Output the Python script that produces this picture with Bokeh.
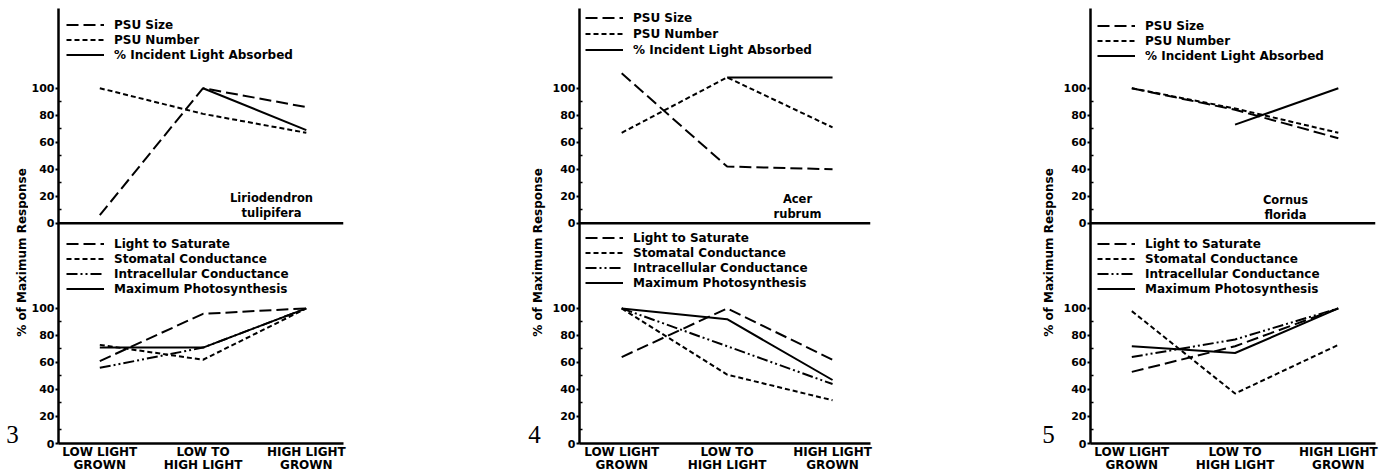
import math
from bokeh.plotting import figure
from bokeh.models import (ColumnDataSource, FixedTicker, Span, Label, Legend,
                          LegendItem, Range1d)
from bokeh.transform import dodge
from bokeh.layouts import row
from bokeh.embed import file_html
from bokeh.resources import INLINE

NaN = float("nan")

# ---------------- data ----------------
categories = ["LOW LIGHT\nGROWN", "LOW TO\nHIGH LIGHT", "HIGH LIGHT\nGROWN"]
species = ["Liriodendron\ntulipifera", "Acer\nrubrum", "Cornus\nflorida"]
figure_numbers = ["3", "4", "5"]
y_tick_values = [0, 20, 40, 60, 80, 100]
y_minor_values = [10, 30, 50, 70, 90]

top_names = ["PSU Size", "PSU Number", "% Incident Light Absorbed"]
bottom_names = ["Light to Saturate", "Stomatal Conductance",
                "Intracellular Conductance", "Maximum Photosynthesis"]

# Liriodendron tulipifera
lirio_psu_size = [6, 100, 86]
lirio_psu_number = [100, 81, 67]
lirio_light_absorbed = [NaN, 100, 69]
lirio_light_saturate = [61, 96, 100]
lirio_stomatal = [73, 62, 100]
lirio_intracellular = [56, 71, 100]
lirio_max_ps = [71, 71, 100]

# Acer rubrum
acer_psu_size = [111, 42, 40]
acer_psu_number = [67, 108, 71]
acer_light_absorbed = [NaN, 108, 108]
acer_light_saturate = [64, 100, 62]
acer_stomatal = [100, 51, 32]
acer_intracellular = [100, 72, 44]
acer_max_ps = [100, 92, 47]

# Cornus florida
cornus_psu_size = [100, 84, 63]
cornus_psu_number = [100, 85, 67]
cornus_light_absorbed = [NaN, 73, 100]
cornus_light_saturate = [53, 72, 100]
cornus_stomatal = [98, 37, 73]
cornus_intracellular = [64, 77, 100]
cornus_max_ps = [72, 67, 100]

# ---------------- styles / layout ----------------
FONT = "DejaVu Sans"
TOP_OFFSET = 163          # vertical offset of the upper sub-plot (layout)
top_dashes = ["12 5", "5 3", "solid"]
bottom_dashes = ["12 5", "5 3", "11 3 2 3 2 3", "solid"]
HEIGHT = 475
BORDER_TOP = 8
BORDER_BOTTOM = 32
Y_END = 322

panels = [
    dict(top=[lirio_psu_size, lirio_psu_number, lirio_light_absorbed],
         bottom=[lirio_light_saturate, lirio_stomatal, lirio_intracellular, lirio_max_ps],
         sw=28, width=492, br=177, top_sp=0,
         ylab_x=21, num_x=12, spec=(213, 238),
         leg_top=(8, 381), leg_bot=(8, 147)),
    dict(top=[acer_psu_size, acer_psu_number, acer_light_absorbed],
         bottom=[acer_light_saturate, acer_stomatal, acer_intracellular, acer_max_ps],
         sw=29, width=481, br=160, top_sp=1,
         ylab_x=17, num_x=14, spec=(218, 237),
         leg_top=(6, 386), leg_bot=(6, 153)),
    dict(top=[cornus_psu_size, cornus_psu_number, cornus_light_absorbed],
         bottom=[cornus_light_saturate, cornus_stomatal, cornus_intracellular, cornus_max_ps],
         sw=30, width=326, br=11, top_sp=0,
         ylab_x=18, num_x=18, spec=(195, 236),
         leg_top=(7, 380), leg_bot=(7, 147)),
]

x_idx = list(range(len(categories)))


def make_legend(items, loc, spacing):
    return Legend(items=items, location=loc, background_fill_alpha=0,
                  border_line_color=None, padding=0, margin=0, spacing=spacing,
                  glyph_width=38, glyph_height=15, label_height=15,
                  label_standoff=10, label_text_font=FONT,
                  label_text_font_style="bold", label_text_font_size="12px",
                  label_text_color="black")


children = []
for i, pc in enumerate(panels):
    # narrow side canvas holding the rotated axis title and the figure number
    s = figure(width=pc["sw"], height=HEIGHT, x_range=Range1d(0, 1),
               y_range=Range1d(0, 1), output_backend="svg",
               toolbar_location=None, x_axis_location=None,
               y_axis_location=None, min_border=0,
               min_border_top=BORDER_TOP, min_border_bottom=BORDER_BOTTOM)
    s.xgrid.visible = False
    s.ygrid.visible = False
    s.outline_line_color = None
    # positions relative to the bottom of the (aligned) plot frame
    s.add_layout(Label(x=pc["ylab_x"], y=191, x_units="screen",
                       y_units="screen", text="% of Maximum Response",
                       angle=math.pi / 2, text_align="center",
                       text_baseline="middle", text_font=FONT,
                       text_font_style="bold", text_font_size="12px",
                       text_color="black"))
    s.add_layout(Label(x=pc["num_x"], y=9, x_units="screen",
                       y_units="screen", text=figure_numbers[i],
                       text_align="center", text_baseline="middle",
                       text_font="Liberation Serif", text_font_size="25px",
                       text_color="black"))
    children.append(s)

    p = figure(width=pc["width"], height=HEIGHT,
               x_range=Range1d(-0.4, 2.36), y_range=Range1d(0, Y_END),
               output_backend="svg", toolbar_location=None,
               min_border_left=25, min_border_right=pc["br"],
               min_border_top=BORDER_TOP, min_border_bottom=BORDER_BOTTOM)
    p.xgrid.visible = False
    p.ygrid.visible = False
    p.outline_line_color = None

    # y axis (two stacked sub-plots share one axis line)
    major = y_tick_values + [TOP_OFFSET + v for v in y_tick_values]
    minor = y_minor_values + [TOP_OFFSET + v for v in y_minor_values]
    yax = p.yaxis[0]
    yax.ticker = FixedTicker(ticks=major, minor_ticks=minor)
    yax.major_label_overrides = {TOP_OFFSET + v: str(v) for v in y_tick_values}
    yax.axis_line_width = 2.5
    yax.major_tick_line_width = 2
    yax.major_tick_out = 3
    yax.major_tick_in = 0
    yax.minor_tick_in = 3
    yax.minor_tick_out = 0
    yax.minor_tick_line_width = 1.5
    yax.major_label_standoff = 1
    yax.major_label_text_font = FONT
    yax.major_label_text_font_style = "bold"
    yax.major_label_text_font_size = "11px"
    yax.major_label_text_color = "black"

    xax = p.xaxis[0]
    xax.ticker = FixedTicker(ticks=x_idx, minor_ticks=[])
    xax.major_label_overrides = {k: c for k, c in zip(x_idx, categories)}
    xax.axis_line_width = 2.5
    xax.major_tick_out = 0
    xax.major_tick_in = 0
    xax.minor_tick_out = 0
    xax.minor_tick_in = 0
    xax.major_label_standoff = 1
    xax.major_label_text_font = FONT
    xax.major_label_text_font_style = "bold"
    xax.major_label_text_font_size = "12px"
    xax.major_label_text_line_height = 0.95
    xax.major_label_text_color = "black"

    p.add_layout(Span(location=TOP_OFFSET, dimension="width",
                      line_color="black", line_width=2.5))

    top_items = []
    for name, vals, dash in zip(top_names, pc["top"], top_dashes):
        src = ColumnDataSource(dict(x=x_idx, y=vals))
        r = p.line(x="x", y=dodge("y", TOP_OFFSET), source=src,
                   line_color="black", line_width=2, line_dash=dash)
        top_items.append(LegendItem(label=name, renderers=[r]))
    bot_items = []
    for name, vals, dash in zip(bottom_names, pc["bottom"], bottom_dashes):
        src = ColumnDataSource(dict(x=x_idx, y=vals))
        r = p.line(x="x", y="y", source=src,
                   line_color="black", line_width=2, line_dash=dash)
        bot_items.append(LegendItem(label=name, renderers=[r]))

    p.add_layout(make_legend(top_items, pc["leg_top"], pc["top_sp"]))
    p.add_layout(make_legend(bot_items, pc["leg_bot"], 0))

    p.add_layout(Label(x=pc["spec"][0], y=pc["spec"][1], x_units="screen",
                       y_units="screen", text=species[i],
                       text_align="center", text_baseline="middle",
                       text_font=FONT, text_font_style="bold",
                       text_font_size="11.5px", text_line_height=1.05,
                       text_color="black"))
    children.append(p)

layout = row(*children, spacing=0)
open("out.html", "w").write(file_html(layout, INLINE))
